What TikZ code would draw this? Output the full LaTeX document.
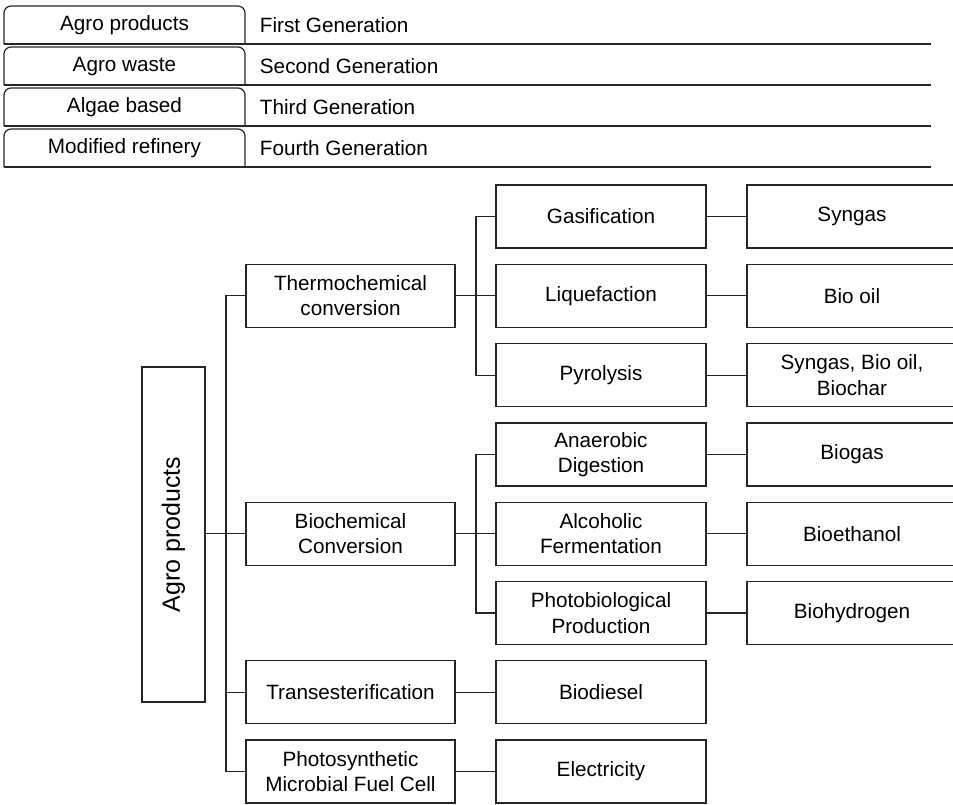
\documentclass[tikz,border=0pt]{standalone}
\usepackage{fontspec}
\setmainfont{Liberation Sans}
\usepackage{tikz}
\usetikzlibrary{positioning}

\tikzset{
  proc/.style={draw=black!85, minimum width=209pt, minimum height=63pt, inner sep=0pt, align=center},
  link/.style={draw=black!85},
}

\begin{document}
\begin{tikzpicture}[x=1pt,y=-1pt,line width=1.2pt,font=\fontsize{20.7}{25.5}\selectfont]
\useasboundingbox (0,0) rectangle (953,804);
% legend
\foreach \lab/\gen [count=\i from 0] in {Agro products/First, Agro waste/Second, Algae based/Third, Modified refinery/Fourth} {
  \draw[black!85,rounded corners=7pt] (4,{44+41*\i}) -- (4,{6+41*\i}) -- (245,{6+41*\i}) -- (245,{44+41*\i});
  \draw[black!85] (4,{44+41*\i}) -- (931,{44+41*\i});
  \node (leg\i) at (124.5,{25.5+41*\i}) {\lab};
  \node[anchor=west] (gen\i) at (256,{25.5+41*\i}) {\gen{} Generation};
}
% root
\node[draw=black!85,minimum width=63pt,minimum height=335pt,inner sep=0pt] (agro) at (173.5,534.5) {};
\node[rotate=90,font=\fontsize{25}{30}\selectfont] (agrotxt) at (agro) {Agro products};
% first level
\node[proc] (thermo) at (350.5,295.8) {Thermochemical\\conversion};
\node[proc] (bio) at (350.5,533.7) {Biochemical\\Conversion};
\node[proc] (trans) at (350.5,692.2) {Transesterification};
\node[proc] (pmfc) at (350.5,771.5) {Photosynthetic\\Microbial Fuel Cell};
% second level
\node[proc,minimum width=210pt] (gas) at (601,216.5) {Gasification};
\node[proc,minimum width=210pt] (liq) at (601,295.8) {Liquefaction};
\node[proc,minimum width=210pt] (pyr) at (601,375.1) {Pyrolysis};
\node[proc,minimum width=210pt] (ana) at (601,454.4) {Anaerobic\\Digestion};
\node[proc,minimum width=210pt] (alc) at (601,533.7) {Alcoholic\\Fermentation};
\node[proc,minimum width=210pt] (photo) at (601,613) {Photobiological\\Production};
\node[proc,minimum width=210pt] (diesel) at (601,692.2) {Biodiesel};
\node[proc,minimum width=210pt] (elec) at (601,771.5) {Electricity};
% products
\node[proc,minimum width=210pt] (syn) at (852,216.5) {Syngas};
\node[proc,minimum width=210pt] (oil) at (852,295.8) {Bio oil};
\node[proc,minimum width=210pt] (mix) at (852,375.1) {Syngas, Bio oil,\\Biochar};
\node[proc,minimum width=210pt] (biogas) at (852,454.4) {Biogas};
\node[proc,minimum width=210pt] (ethanol) at (852,533.7) {Bioethanol};
\node[proc,minimum width=210pt] (hydro) at (852,613) {Biohydrogen};
% junctions
\coordinate (mj) at (226,533.7);
\coordinate (tj) at (476,295.8);
\coordinate (bj) at (476,533.7);
\draw[link] (agro.east |- mj) -- (bio.west);
\draw[link] (thermo.west) -| (mj) |- (pmfc.west);
\draw[link] (mj) |- (trans.west);
\draw[link] (thermo.east) -- (liq.west);
\draw[link] (gas.west) -| (tj) |- (pyr.west);
\draw[link] (bio.east) -- (alc.west);
\draw[link] (ana.west) -| (bj) |- (photo.west);
\draw[link] (trans) -- (diesel);
\draw[link] (pmfc) -- (elec);
\draw[link] (gas) -- (syn);
\draw[link] (liq) -- (oil);
\draw[link] (pyr) -- (mix);
\draw[link] (ana) -- (biogas);
\draw[link] (alc) -- (ethanol);
\draw[link] (photo) -- (hydro);
\end{tikzpicture}
\end{document}
